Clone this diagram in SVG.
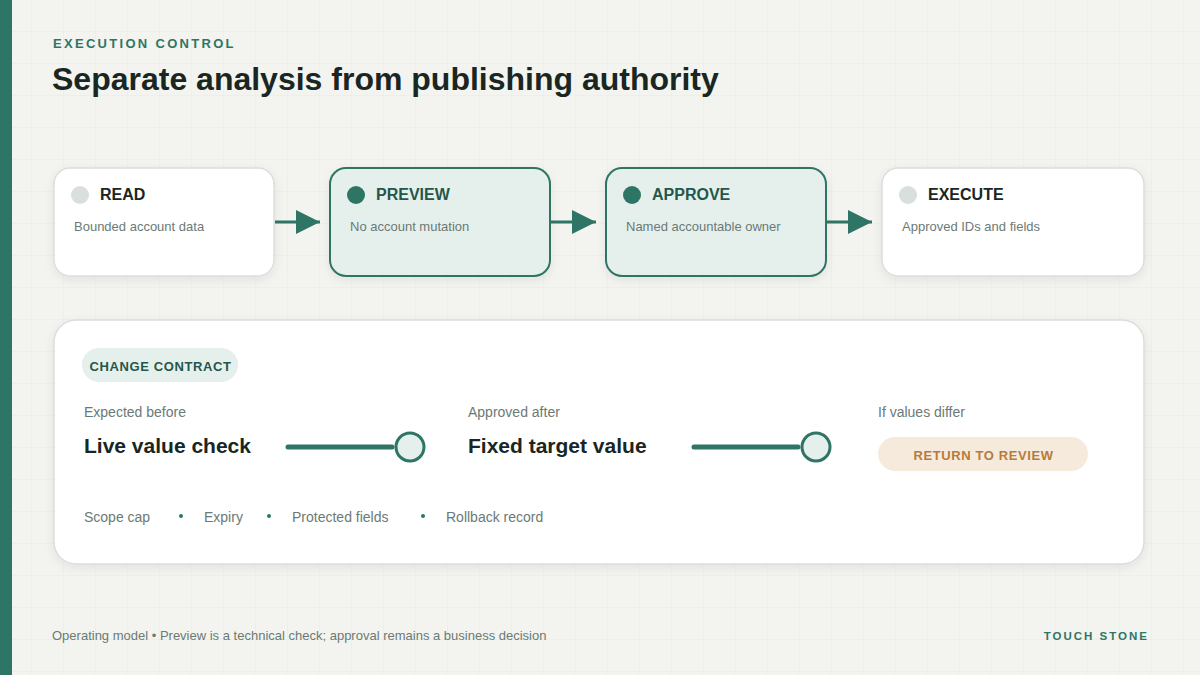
<svg xmlns="http://www.w3.org/2000/svg" width="1200" height="675" viewBox="0 0 1200 675">
  <defs>
    <pattern id="grid" width="32" height="32" patternUnits="userSpaceOnUse">
      <path d="M32 0V32M0 32H32" fill="none" stroke="#e9ebe5" stroke-width="1"/>
    </pattern>
    <filter id="shadow" x="-10%" y="-20%" width="120%" height="150%">
      <feDropShadow dx="0" dy="3" stdDeviation="5" flood-color="#1a2622" flood-opacity="0.07"/>
    </filter>
    <marker id="arrow" viewBox="0 0 24 24" markerWidth="24" markerHeight="24" refX="24" refY="12" markerUnits="userSpaceOnUse" orient="auto">
      <path d="M0 0L24 12L0 24Z" fill="#2f7565"/>
    </marker>
    <style>
      .sans { font-family: "Liberation Sans", Arial, sans-serif; }
      .card { fill: #ffffff; stroke: #d9dfdc; stroke-width: 1.5; filter: url(#shadow); }
      .card-active { fill: #e5f0ed; stroke: #2f7565; stroke-width: 2; filter: url(#shadow); }
      .dot-idle { fill: #d9dfdc; }
      .dot-active { fill: #2f7565; }
      .step-title { font-size: 16px; font-weight: 700; fill: #1a2622; }
      .step-title-active { font-size: 16px; font-weight: 700; fill: #24574b; }
      .step-sub { font-size: 13px; fill: #6b7a75; }
      .label { font-size: 14px; fill: #6b7a75; }
      .value { font-size: 21px; font-weight: 700; fill: #1a2622; }
      .track { stroke: #2f7565; stroke-width: 5; stroke-linecap: round; }
      .knob { fill: #e5f0ed; stroke: #2f7565; stroke-width: 3; }
      .conn { stroke: #2f7565; stroke-width: 3; fill: none; marker-end: url(#arrow); }
      .bullet { fill: #2f7565; }
    </style>
  </defs>

  <!-- page background -->
  <rect width="1200" height="675" fill="#f3f4f0"/>
  <rect width="1200" height="675" fill="url(#grid)"/>
  <rect x="0" y="0" width="12" height="675" fill="#2f7565"/>

  <!-- heading -->
  <text class="sans" x="53" y="48" font-size="13" font-weight="700" letter-spacing="2.3" fill="#2f7565">EXECUTION CONTROL</text>
  <text class="sans" x="52" y="90" font-size="32" font-weight="700" fill="#1a2622">Separate analysis from publishing authority</text>

  <!-- connectors -->
  <g id="connectors">
    <line class="conn" x1="275" y1="222" x2="320" y2="222"/>
    <line class="conn" x1="551" y1="222" x2="596" y2="222"/>
    <line class="conn" x1="827" y1="222" x2="872" y2="222"/>
  </g>

  <!-- pipeline steps -->
  <g id="step-read">
    <rect class="card" x="54" y="168" width="220" height="108" rx="16"/>
    <circle class="dot-idle" cx="80" cy="195" r="9"/>
    <text class="sans step-title" x="100" y="200">READ</text>
    <text class="sans step-sub" x="74" y="231">Bounded account data</text>
  </g>
  <g id="step-preview">
    <rect class="card-active" x="330" y="168" width="220" height="108" rx="16"/>
    <circle class="dot-active" cx="356" cy="195" r="9"/>
    <text class="sans step-title-active" x="376" y="200">PREVIEW</text>
    <text class="sans step-sub" x="350" y="231">No account mutation</text>
  </g>
  <g id="step-approve">
    <rect class="card-active" x="606" y="168" width="220" height="108" rx="16"/>
    <circle class="dot-active" cx="632" cy="195" r="9"/>
    <text class="sans step-title-active" x="652" y="200">APPROVE</text>
    <text class="sans step-sub" x="626" y="231">Named accountable owner</text>
  </g>
  <g id="step-execute">
    <rect class="card" x="882" y="168" width="262" height="108" rx="16"/>
    <circle class="dot-idle" cx="908" cy="195" r="9"/>
    <text class="sans step-title" x="928" y="200">EXECUTE</text>
    <text class="sans step-sub" x="902" y="231">Approved IDs and fields</text>
  </g>

  <!-- change contract panel -->
  <g id="change-contract">
    <rect class="card" x="54" y="320" width="1090" height="244" rx="22"/>
    <rect x="82" y="348" width="156" height="34" rx="17" fill="#e5f0ed"/>
    <text class="sans" x="160.5" y="371" text-anchor="middle" font-size="13" font-weight="700" letter-spacing="0.6" fill="#24574b">CHANGE CONTRACT</text>

    <text class="sans label" x="84" y="417">Expected before</text>
    <text class="sans value" x="84" y="453">Live value check</text>
    <line class="track" x1="288" y1="447" x2="392" y2="447"/>
    <circle class="knob" cx="410" cy="447" r="14"/>

    <text class="sans label" x="468" y="417">Approved after</text>
    <text class="sans value" x="468" y="453">Fixed target value</text>
    <line class="track" x1="694" y1="447" x2="798" y2="447"/>
    <circle class="knob" cx="816" cy="447" r="14"/>

    <text class="sans label" x="878" y="417">If values differ</text>
    <rect x="878" y="437" width="210" height="34" rx="17" fill="#f5eadc"/>
    <text class="sans" x="983.5" y="460" text-anchor="middle" font-size="13" font-weight="700" letter-spacing="0.6" fill="#b97a3a">RETURN TO REVIEW</text>

    <text class="sans label" x="84" y="522">Scope cap</text>
    <circle class="bullet" cx="181" cy="516" r="2"/>
    <text class="sans label" x="204" y="522">Expiry</text>
    <circle class="bullet" cx="269" cy="516" r="2"/>
    <text class="sans label" x="292" y="522">Protected fields</text>
    <circle class="bullet" cx="423" cy="516" r="2"/>
    <text class="sans label" x="446" y="522">Rollback record</text>
  </g>

  <!-- footer -->
  <text class="sans" x="52" y="640" font-size="13" fill="#6b7a75">Operating model • Preview is a technical check; approval remains a business decision</text>
  <text class="sans" x="1149" y="640" text-anchor="end" font-size="11.5" font-weight="700" letter-spacing="2" fill="#2f7565">TOUCH STONE</text>
</svg>
